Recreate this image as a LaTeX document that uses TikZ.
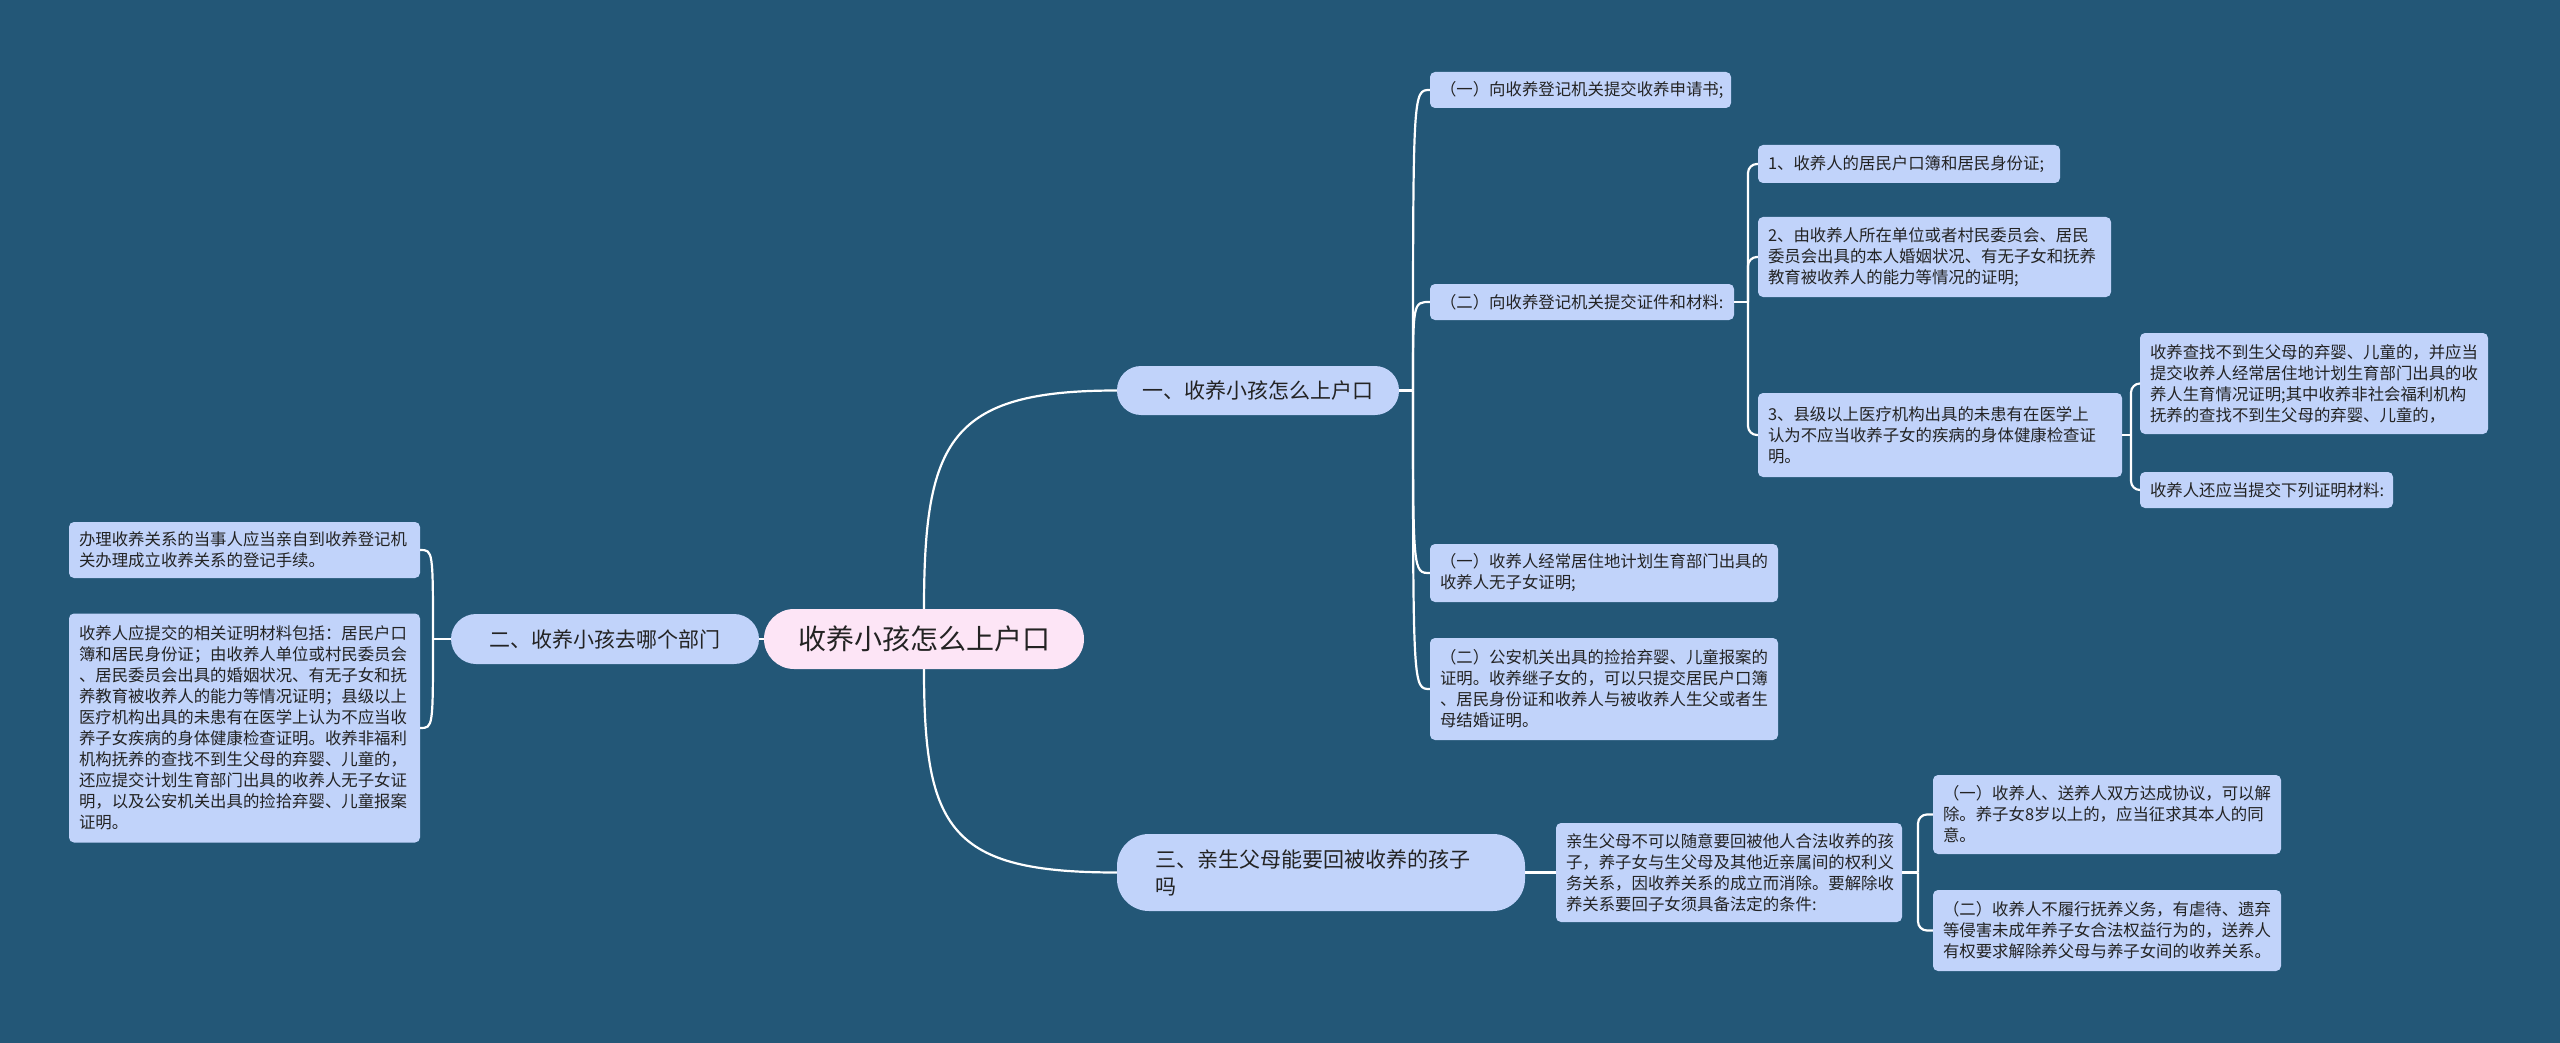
\documentclass[tikz,border=0pt]{standalone}
\usepackage{fontspec}
\setmainfont{Noto Sans CJK SC}
\definecolor{bg}{RGB}{35,87,119}
\definecolor{nodefill}{RGB}{193,211,250}
\definecolor{rootfill}{RGB}{253,229,246}
\definecolor{txt}{RGB}{35,35,35}
\begin{document}
\begin{tikzpicture}[x=1pt,y=-1pt,
  leaf/.style={fill=nodefill, rounded corners=5pt, text=txt, align=left, inner xsep=10pt, inner ysep=0pt, anchor=center, font=\fontsize{16.4}{21}\selectfont},
  branch/.style={fill=nodefill, text=txt, inner sep=0pt, anchor=center, font=\fontsize{21}{27}\selectfont},
  rootnode/.style={fill=rootfill, text=txt, inner sep=0pt, anchor=center, rounded corners=30pt, font=\fontsize{28}{34}\selectfont},
  edge/.style={draw=white, line width=2.2pt},
  elbow/.style={edge, rounded corners=9pt}]
\path[fill=bg] (0,0) rectangle (2560,1043);

% root and branches
\node[rootnode, minimum width=320pt, minimum height=60pt] (root) at (924,639) {收养小孩怎么上户口};
\node[branch, rounded corners=24pt, minimum width=282pt, minimum height=49pt] (b1) at (1258,390.5) {一、收养小孩怎么上户口};
\node[branch, rounded corners=25pt, minimum width=308pt, minimum height=50pt] (b2) at (605,639) {二、收养小孩去哪个部门};
\node[branch, rounded corners=32pt, minimum width=408pt, minimum height=77pt, text width=332pt, align=left] (b3) at (1321,872.5) {三、亲生父母能要回被收养的孩子\\吗};

% branch 1 children
\node[leaf, text width=281pt, minimum height=36pt] (A1) at (1580.5,90) {（一）向收养登记机关提交收养申请书;};
\node[leaf, text width=284pt, minimum height=36pt] (A2) at (1582,302) {（二）向收养登记机关提交证件和材料:};
\node[leaf, text width=282pt, minimum height=38pt] (A2a) at (1909,164) {1、收养人的居民户口簿和居民身份证;};
\node[leaf, text width=333pt, minimum height=80pt] (A2b) at (1934.5,257) {2、由收养人所在单位或者村民委员会、居民\\委员会出具的本人婚姻状况、有无子女和抚养\\教育被收养人的能力等情况的证明;};
\node[leaf, text width=344pt, minimum height=84pt] (A2c) at (1940,435) {3、县级以上医疗机构出具的未患有在医学上\\认为不应当收养子女的疾病的身体健康检查证\\明。};
\node[leaf, text width=328pt, minimum height=101pt] (A2c1) at (2314,383.5) {收养查找不到生父母的弃婴、儿童的，并应当\\提交收养人经常居住地计划生育部门出具的收\\养人生育情况证明;其中收养非社会福利机构\\抚养的查找不到生父母的弃婴、儿童的，};
\node[leaf, text width=233pt, minimum height=36pt] (A2c2) at (2266.5,490) {收养人还应当提交下列证明材料:};
\node[leaf, text width=328pt, minimum height=58pt] (A3) at (1604,573) {（一）收养人经常居住地计划生育部门出具的\\收养人无子女证明;};
\node[leaf, text width=328pt, minimum height=102pt] (A4) at (1604,689) {（二）公安机关出具的捡拾弃婴、儿童报案的\\证明。收养继子女的，可以只提交居民户口簿\\、居民身份证和收养人与被收养人生父或者生\\母结婚证明。};

% branch 2 children
\node[leaf, text width=331pt, minimum height=56pt] (B1) at (244.5,550) {办理收养关系的当事人应当亲自到收养登记机\\关办理成立收养关系的登记手续。};
\node[leaf, text width=331pt, minimum height=229pt] (B2) at (244.5,728) {收养人应提交的相关证明材料包括：居民户口\\簿和居民身份证；由收养人单位或村民委员会\\、居民委员会出具的婚姻状况、有无子女和抚\\养教育被收养人的能力等情况证明；县级以上\\医疗机构出具的未患有在医学上认为不应当收\\养子女疾病的身体健康检查证明。收养非福利\\机构抚养的查找不到生父母的弃婴、儿童的，\\还应提交计划生育部门出具的收养人无子女证\\明，以及公安机关出具的捡拾弃婴、儿童报案\\证明。};

% branch 3 children
\node[leaf, text width=326pt, minimum height=99pt] (C1) at (1729,872.5) {亲生父母不可以随意要回被他人合法收养的孩\\子，养子女与生父母及其他近亲属间的权利义\\务关系，因收养关系的成立而消除。要解除收\\养关系要回子女须具备法定的条件:};
\node[leaf, text width=328pt, minimum height=79pt] (C1a) at (2107,814.5) {（一）收养人、送养人双方达成协议，可以解\\除。养子女8岁以上的，应当征求其本人的同\\意。};
\node[leaf, text width=328pt, minimum height=81pt] (C1b) at (2107,930.5) {（二）收养人不履行抚养义务，有虐待、遗弃\\等侵害未成年养子女合法权益行为的，送养人\\有权要求解除养父母与养子女间的收养关系。};

% junction points
\coordinate (jb1) at (1413,390.5);
\coordinate (jb2) at (433,639);
\coordinate (jA2) at (1748,302);
\coordinate (jA2c) at (2131,435);
\coordinate (jC1) at (1918,872.5);

% connectors
\draw[edge] (root.north) .. controls (924,440) and (950,390.5) .. (b1.west);
\draw[edge] (root.south) .. controls (924,830) and (950,872.5) .. (b3.west);
\draw[edge] (root.west) -- (b2.east);

\draw[edge] (b2.west) -- (jb2);
\draw[edge] (jb2) .. controls (433,550) .. (B1.east);
\draw[edge] (jb2) .. controls (433,728) .. (B2.east);

\draw[edge] (b1.east) -- (jb1);
\draw[edge] (jb1) .. controls (1413,90) .. (A1.west);
\draw[edge] (jb1) .. controls (1413,302) .. (A2.west);
\draw[edge] (jb1) .. controls (1413,573) .. (A3.west);
\draw[edge] (jb1) .. controls (1413,689) .. (A4.west);

\draw[edge] (A2.east) -- (jA2);
\draw[elbow] (jA2) |- (A2a.west);
\draw[elbow] (jA2) |- (A2b.west);
\draw[elbow] (jA2) |- (A2c.west);

\draw[edge] (A2c.east) -- (jA2c);
\draw[elbow] (jA2c) |- (A2c1.west);
\draw[elbow] (jA2c) |- (A2c2.west);

\draw[edge] (b3.east) -- (C1.west);
\draw[edge] (C1.east) -- (jC1);
\draw[elbow] (jC1) |- (C1a.west);
\draw[elbow] (jC1) |- (C1b.west);
\end{tikzpicture}
\end{document}
